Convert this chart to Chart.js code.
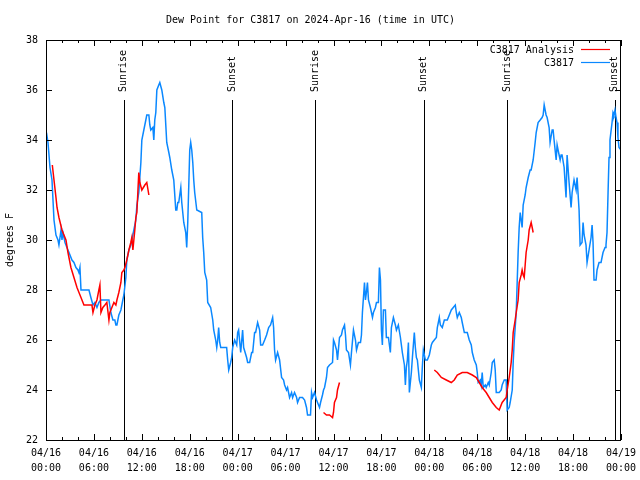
<!DOCTYPE html>
<html>
<head>
<meta charset="utf-8">
<script src="https://cdn.jsdelivr.net/npm/chart.js@4"></script>
<style>
  html, body { margin: 0; padding: 0; background: #fff; }
  canvas { display: block; }
</style>
</head>
<body>
<canvas id="dewChart" width="640" height="480"></canvas>
<script>
// hours since 04/16 00:00 UTC
const xTickDates = ['04/16', '04/16', '04/16', '04/16', '04/17', '04/17', '04/17', '04/17', '04/18', '04/18', '04/18', '04/18', '04/19'];
const xTickTimes = ['00:00', '06:00', '12:00', '18:00', '00:00', '06:00', '12:00', '18:00', '00:00', '06:00', '12:00', '18:00', '00:00'];

const sunHours = [9.75, 23.33, 33.7, 47.3, 57.75, 71.2];
const sunLabels = ['Sunrise', 'Sunset', 'Sunrise', 'Sunset', 'Sunrise', 'Sunset'];

const obsHours = [
  0.06, 0.25, 0.5, 0.75, 1.0, 1.25, 1.5, 1.62, 1.75, 1.88, 2.0, 2.12, 2.38, 2.62, 2.88, 3.25, 3.5, 3.75, 4.0, 4.12,
  4.25, 4.38, 4.88, 5.38, 5.62, 5.88, 6.12, 6.38, 6.62, 6.88, 7.38, 7.88, 8.12, 8.38, 8.62, 8.75, 8.88, 9.12, 9.38, 9.62,
  9.75, 10.0, 10.12, 10.38, 10.62, 10.75, 11.0, 11.25, 11.38, 11.62, 11.88, 12.0, 12.25, 12.5, 12.62, 12.88, 13.0, 13.12, 13.38, 13.5,
  13.62, 13.75, 13.88, 14.12, 14.25, 14.5, 14.75, 14.88, 15.12, 15.38, 15.5, 15.75, 16.0, 16.25, 16.38, 16.5, 16.62, 16.88, 17.0, 17.25,
  17.5, 17.62, 17.75, 18.0, 18.12, 18.25, 18.38, 18.5, 18.62, 18.88, 19.5, 19.62, 19.75, 19.88, 20.12, 20.25, 20.62, 20.88, 21.0, 21.25,
  21.38, 21.5, 21.62, 21.75, 21.88, 22.62, 22.75, 22.88, 23.12, 23.25, 23.38, 23.62, 23.88, 24.0, 24.12, 24.38, 24.62, 24.75, 25.12, 25.25,
  25.5, 25.75, 25.88, 26.12, 26.25, 26.5, 26.75, 26.88, 27.12, 27.38, 27.62, 27.88, 28.12, 28.38, 28.5, 28.62, 28.75, 29.0, 29.25, 29.5,
  29.75, 29.88, 30.12, 30.25, 30.5, 30.75, 30.88, 31.12, 31.38, 31.5, 31.75, 32.12, 32.38, 32.62, 32.75, 33.12, 33.25, 33.38, 33.62, 33.88,
  34.0, 34.25, 34.38, 34.62, 34.75, 34.88, 35.12, 35.25, 35.5, 35.88, 36.0, 36.12, 36.38, 36.5, 36.75, 37.0, 37.12, 37.38, 37.5, 37.62,
  37.88, 38.12, 38.25, 38.5, 38.75, 38.88, 39.12, 39.38, 39.5, 39.62, 39.88, 40.0, 40.12, 40.25, 40.38, 40.62, 40.88, 41.0, 41.25, 41.38,
  41.62, 41.75, 41.88, 42.0, 42.12, 42.25, 42.5, 42.62, 42.88, 43.0, 43.12, 43.25, 43.5, 43.75, 43.88, 44.12, 44.38, 44.5, 44.62, 44.88,
  45.0, 45.12, 45.25, 45.38, 45.5, 45.75, 45.88, 46.12, 46.25, 46.38, 46.5, 46.75, 47.0, 47.12, 47.25, 47.5, 47.75, 48.0, 48.25, 48.38,
  48.62, 48.88, 49.0, 49.25, 49.38, 49.62, 49.88, 50.25, 50.5, 50.75, 51.0, 51.25, 51.38, 51.5, 51.75, 52.0, 52.12, 52.38, 52.75, 53.0,
  53.25, 53.38, 53.62, 53.88, 54.0, 54.12, 54.38, 54.5, 54.62, 54.75, 55.0, 55.12, 55.38, 55.5, 55.75, 55.88, 56.12, 56.25, 56.38, 56.75,
  57.0, 57.12, 57.38, 57.62, 57.75, 58.0, 58.12, 58.38, 58.5, 58.62, 58.88, 59.0, 59.12, 59.25, 59.38, 59.5, 59.62, 59.75, 60.0, 60.12,
  60.38, 60.62, 60.75, 61.0, 61.25, 61.38, 61.62, 61.88, 62.12, 62.25, 62.38, 62.62, 62.75, 63.0, 63.12, 63.38, 63.5, 63.62, 63.88, 64.0,
  64.12, 64.38, 64.5, 64.62, 64.88, 65.12, 65.25, 65.5, 65.75, 65.88, 66.12, 66.38, 66.5, 66.75, 66.88, 67.12, 67.25, 67.38, 67.62, 67.75,
  68.0, 68.25, 68.38, 68.5, 68.62, 68.88, 69.0, 69.25, 69.5, 69.75, 70.0, 70.12, 70.25, 70.38, 70.5, 70.62, 70.88, 71.0, 71.12, 71.25,
  71.38, 71.5, 71.62, 71.75, 72.0
];
const obsDew = [
  34.3, 33.9, 32.9, 32.4, 30.8, 30.2, 30.0, 29.8, 30.1, 30.4, 30.0, 30.3, 29.9, 29.7, 29.5, 29.2, 29.1, 28.9, 28.8, 28.7,
  28.9, 28.0, 28.0, 28.0, 27.7, 27.4, 27.5, 27.3, 27.5, 27.6, 27.6, 27.6, 27.1, 26.8, 26.8, 26.6, 26.6, 27.0, 27.2, 27.6,
  27.8, 28.5, 29.2, 29.6, 29.8, 30.0, 30.4, 30.8, 31.4, 31.9, 33.1, 34.0, 34.4, 34.8, 35.0, 35.0, 34.6, 34.4, 34.5, 34.0,
  34.8, 35.1, 36.0, 36.2, 36.3, 36.0, 35.5, 35.3, 33.9, 33.5, 33.3, 32.8, 32.4, 31.2, 31.2, 31.5, 31.5, 32.1, 31.5, 30.7,
  30.3, 29.7, 30.7, 33.6, 33.9, 33.6, 33.1, 32.4, 31.9, 31.2, 31.1, 30.1, 29.5, 28.7, 28.4, 27.5, 27.3, 26.8, 26.4, 26.0,
  25.7, 26.0, 26.5, 25.9, 25.7, 25.7, 25.2, 24.8, 25.1, 25.3, 25.7, 26.0, 25.8, 26.3, 26.4, 25.5, 26.4, 25.7, 25.3, 25.1,
  25.1, 25.5, 25.5, 26.3, 26.3, 26.7, 26.4, 25.8, 25.8, 26.0, 26.2, 26.5, 26.6, 26.9, 26.5, 25.6, 25.2, 25.5, 25.2, 24.5,
  24.4, 24.2, 24.0, 24.1, 23.7, 23.9, 23.7, 23.9, 23.7, 23.5, 23.7, 23.7, 23.6, 23.3, 23.0, 23.0, 23.9, 23.7, 23.9, 23.6,
  23.5, 23.3, 23.5, 23.8, 24.0, 24.1, 24.5, 24.9, 25.0, 25.1, 26.0, 25.9, 25.6, 25.2, 26.1, 26.2, 26.4, 26.6, 26.2, 25.6,
  25.5, 25.0, 25.5, 26.4, 26.0, 25.6, 25.9, 25.9, 26.2, 27.1, 28.3, 27.6, 27.9, 28.3, 27.6, 27.3, 26.9, 27.1, 27.3, 27.5,
  27.5, 28.9, 28.4, 26.4, 25.8, 27.2, 27.2, 26.1, 26.1, 25.8, 25.5, 26.5, 26.9, 26.6, 26.4, 26.6, 26.1, 25.8, 25.5, 25.0,
  24.2, 24.9, 25.2, 25.9, 23.9, 24.7, 25.3, 26.3, 25.7, 25.3, 25.2, 24.4, 24.1, 24.9, 25.6, 25.2, 25.2, 25.4, 25.8, 25.9,
  26.0, 26.1, 26.5, 26.9, 26.6, 26.5, 26.8, 26.8, 27.0, 27.2, 27.3, 27.4, 27.1, 26.9, 27.1, 26.9, 26.7, 26.3, 26.3, 26.0,
  25.8, 25.5, 25.2, 25.0, 24.7, 24.3, 24.4, 24.2, 24.7, 24.1, 24.2, 24.1, 24.3, 24.2, 24.7, 25.1, 25.2, 24.8, 23.9, 23.9,
  24.0, 24.2, 24.4, 24.4, 23.2, 23.3, 23.5, 24.0, 25.1, 25.9, 27.1, 28.3, 29.5, 30.5, 31.1, 30.8, 30.5, 31.4, 31.8, 32.1,
  32.5, 32.8, 32.8, 33.2, 33.9, 34.3, 34.7, 34.8, 34.9, 35.0, 35.4, 35.0, 34.9, 34.5, 33.9, 34.4, 34.4, 34.0, 33.2, 33.8,
  33.6, 33.2, 33.4, 33.4, 32.9, 31.7, 33.4, 32.3, 31.3, 31.9, 32.4, 32.0, 32.5, 31.2, 29.8, 29.9, 30.7, 30.2, 29.8, 29.1,
  29.6, 30.1, 30.6, 29.9, 28.4, 28.4, 28.8, 29.1, 29.1, 29.5, 29.7, 29.8, 30.3, 31.9, 33.3, 34.0, 34.7, 35.1, 35.0, 35.2,
  34.9, 34.7, 34.1, 33.7, 33.6
];

// analysis series, null marks a break in the line
const anaHours = [
  0.79, 1.0, 1.25, 1.38, 1.62, 2.0, 2.5, 2.75, 3.12, 3.5, 3.88, 4.38, 4.75, 5.38, 5.75, 5.88, 6.12, 6.38, 6.62, 6.75,
  6.88, 7.12, 7.38, 7.62, 7.88, 8.0, 8.25, 8.5, 8.75, 8.88, 9.12, 9.38, 9.5, 9.75, 9.88, 10.12, 10.38, 10.62, 10.75, 10.88,
  11.12, 11.25, 11.38, 11.5, 11.62, 11.75, 12.0, 12.38, 12.62, 12.88,
  20.0,
  34.75, 35.12, 35.5, 35.88, 36.0, 36.12, 36.38, 36.5, 36.75,
  42.0,
  48.62, 49.0, 49.5, 50.12, 50.75, 51.12, 51.5, 52.12, 52.75, 53.38, 53.88, 54.25, 54.62, 55.12, 55.5, 55.88, 56.38, 56.75, 57.12, 57.62,
  57.75, 58.0, 58.25, 58.38, 58.5, 58.75, 58.88, 59.12, 59.25, 59.5, 59.62, 59.75, 59.88, 60.0, 60.12, 60.38, 60.5, 60.75, 60.88, 61.0
];
const anaDew = [
  33.0, 32.4, 31.7, 31.3, 30.9, 30.4, 30.0, 29.5, 28.9, 28.5, 28.1, 27.7, 27.4, 27.4, 27.4, 27.1, 27.4, 27.6, 28.0, 28.2,
  27.1, 27.3, 27.4, 27.5, 26.8, 27.1, 27.3, 27.5, 27.4, 27.6, 27.9, 28.3, 28.7, 28.8, 28.9, 29.2, 29.6, 29.9, 30.1, 29.6,
  30.4, 30.9, 31.1, 31.9, 32.7, 32.3, 32.0, 32.2, 32.3, 31.8,
  null,
  23.1, 23.0, 23.0, 22.9, 23.1, 23.5, 23.7, 24.0, 24.3,
  null,
  24.8, 24.7, 24.5, 24.4, 24.3, 24.4, 24.6, 24.7, 24.7, 24.6, 24.5, 24.3, 24.1, 23.9, 23.7, 23.5, 23.3, 23.2, 23.5, 23.7,
  24.0, 24.5, 25.1, 25.6, 26.3, 26.8, 27.1, 27.6, 28.3, 28.6, 28.8, 28.6, 28.5, 29.0, 29.5, 30.0, 30.4, 30.7, 30.5, 30.3
];

const MONO = '"DejaVu Sans Mono", "Liberation Mono", monospace';
const RED = '#ff0000';
const BLUE = '#0a88ff';

function pairs(xs, ys) {
  return xs.map((x, i) => ({ x: x, y: ys[i] }));
}

// gnuplot-style frame, inward ticks, sun event lines and key
const gnuplotDecor = {
  id: 'gnuplotDecor',
  beforeDatasetsDraw(chart) {
    const ctx = chart.ctx;
    const area = chart.chartArea;
    const xs = chart.scales.x;
    ctx.save();
    ctx.strokeStyle = '#000';
    ctx.lineWidth = 1;
    sunHours.forEach(h => {
      const px = Math.round(xs.getPixelForValue(h)) + 0.5;
      ctx.beginPath();
      ctx.moveTo(px, area.top + 60);
      ctx.lineTo(px, area.bottom);
      ctx.stroke();
    });
    ctx.restore();
  },
  afterDraw(chart) {
    const ctx = chart.ctx;
    const area = chart.chartArea;
    const xs = chart.scales.x;
    const ys = chart.scales.y;
    ctx.save();
    ctx.strokeStyle = '#000';
    ctx.lineWidth = 1;
    ctx.strokeRect(area.left + 0.5, area.top + 0.5, area.right - area.left - 1, area.bottom - area.top);

    ctx.beginPath();
    for (let h = 0; h <= 72; h += 2) {
      const px = Math.round(xs.getPixelForValue(h)) + 0.5;
      const len = h % 6 === 0 ? 6 : 3;
      ctx.moveTo(px, area.bottom);
      ctx.lineTo(px, area.bottom - len);
      ctx.moveTo(px, area.top);
      ctx.lineTo(px, area.top + len);
    }
    for (let v = 22; v <= 38; v += 2) {
      const py = Math.round(ys.getPixelForValue(v)) + 0.5;
      ctx.moveTo(area.left, py);
      ctx.lineTo(area.left + 6, py);
      ctx.moveTo(area.right, py);
      ctx.lineTo(area.right - 6, py);
    }
    ctx.stroke();

    // sunrise / sunset labels, rotated
    ctx.fillStyle = '#000';
    ctx.font = '10px ' + MONO;
    ctx.textAlign = 'left';
    ctx.textBaseline = 'middle';
    sunHours.forEach((h, i) => {
      const px = xs.getPixelForValue(h);
      ctx.save();
      ctx.translate(px, area.top + 52);
      ctx.rotate(-Math.PI / 2);
      ctx.fillText(sunLabels[i], 0, 0);
      ctx.restore();
    });

    // key
    const keyItems = [
      { label: 'C3817 Analysis', color: RED },
      { label: 'C3817', color: BLUE }
    ];
    ctx.textAlign = 'right';
    keyItems.forEach((item, i) => {
      const yy = area.top + 10 + i * 13;
      ctx.fillStyle = '#000';
      ctx.fillText(item.label, area.right - 47, yy);
      ctx.strokeStyle = item.color;
      ctx.lineWidth = 1.2;
      ctx.beginPath();
      ctx.moveTo(area.right - 40, yy - 0.5);
      ctx.lineTo(area.right - 11, yy - 0.5);
      ctx.stroke();
    });
    ctx.restore();
  }
};

new Chart(document.getElementById('dewChart').getContext('2d'), {
  type: 'line',
  data: {
    datasets: [
      {
        label: 'C3817 Analysis',
        data: pairs(anaHours, anaDew),
        borderColor: RED,
        borderWidth: 1.5,
        pointRadius: 0,
        spanGaps: false,
        fill: false,
        tension: 0
      },
      {
        label: 'C3817',
        data: pairs(obsHours, obsDew),
        borderColor: BLUE,
        borderWidth: 1.5,
        pointRadius: 0,
        fill: false,
        tension: 0
      }
    ]
  },
  options: {
    responsive: false,
    animation: false,
    layout: { padding: { left: 0, right: 19, top: 0, bottom: 0 } },
    plugins: {
      legend: { display: false },
      tooltip: { enabled: false },
      title: {
        display: true,
        text: 'Dew Point for C3817 on 2024-Apr-16 (time in UTC)',
        color: '#000',
        font: { family: MONO, size: 10, weight: 'normal', lineHeight: 1.2 },
        padding: { top: 14, bottom: 14 }
      }
    },
    scales: {
      x: {
        type: 'linear',
        min: 0,
        max: 72,
        grid: { display: false, drawTicks: false },
        border: { display: false },
        afterFit: scale => { scale.height = 40; scale.paddingRight = 0; },
        ticks: {
          stepSize: 6,
          autoSkip: false,
          maxRotation: 0,
          padding: 6,
          color: '#000',
          font: { family: MONO, size: 10, lineHeight: 1.5 },
          callback: value => [xTickDates[value / 6], xTickTimes[value / 6]]
        }
      },
      y: {
        min: 22,
        max: 38,
        grid: { display: false, drawTicks: false },
        border: { display: false },
        afterFit: scale => { scale.width = 46; },
        title: {
          display: true,
          text: 'degrees F',
          color: '#000',
          font: { family: MONO, size: 10, lineHeight: 1.2 },
          padding: { top: 4, bottom: 0 }
        },
        ticks: {
          stepSize: 2,
          padding: 8,
          color: '#000',
          font: { family: MONO, size: 10 }
        }
      }
    }
  },
  plugins: [gnuplotDecor]
});
</script>
</body>
</html>
